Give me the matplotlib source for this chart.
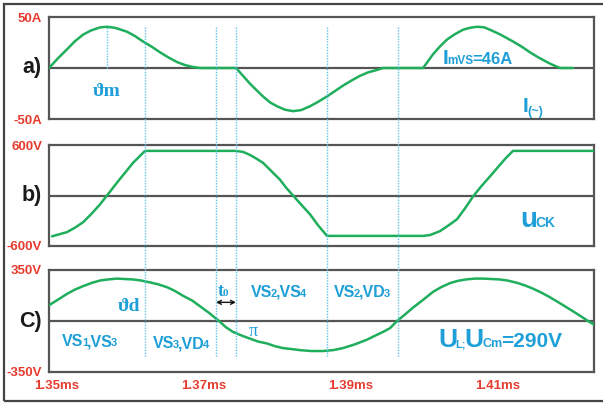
import matplotlib
matplotlib.use("Agg")
import matplotlib.pyplot as plt
from matplotlib import transforms
from matplotlib.lines import Line2D

# time base in ms
t_i = [1.34891, 1.35014, 1.35136, 1.35245, 1.35354, 1.35463, 1.35585, 1.35680,
       1.35789, 1.35952, 1.36061, 1.36170, 1.36292, 1.36401, 1.36510, 1.36633,
       1.36741, 1.36850, 1.36946, 1.37435, 1.37531, 1.37626, 1.37707, 1.37803,
       1.37898, 1.37993, 1.38102, 1.38211, 1.38320, 1.38442, 1.38551, 1.38673,
       1.38782, 1.38891, 1.39013, 1.39122, 1.39231, 1.39354, 1.39435, 1.39980,
       1.40048, 1.40116, 1.40211, 1.40306, 1.40415, 1.40524, 1.40619, 1.40714,
       1.40810, 1.40891, 1.41027, 1.41204, 1.41327, 1.41435, 1.41544, 1.41667,
       1.41748, 1.41844, 1.42020]
i_ac = [0, 9.6, 18.3, 26.3, 32.7, 36.8, 39.8, 40.4,
        39.4, 35.6, 31.3, 26.0, 20.7, 15.4, 10.6, 5.8,
        2.9, 1.0, 0, 0, -7.7, -15.4, -21.2, -27.9,
        -33.7, -37.5, -40.9, -42.3, -41.3, -37.5, -33.2, -27.9,
        -22.6, -17.3, -12.0, -7.7, -4.3, -1.9, 0, 0,
        6.7, 13.5, 21.2, 27.9, 33.2, 37.5, 39.4, 40.4,
        39.9, 37.5, 33.0, 26.0, 20.7, 15.4, 10.6, 5.8,
        2.9, 0, 0]

t_u = [1.34932, 1.35014, 1.35136, 1.35245, 1.35354, 1.35463, 1.35585, 1.35680,
       1.35816, 1.35925, 1.36034, 1.36116, 1.36197, 1.37435, 1.37531, 1.37626,
       1.37707, 1.37803, 1.37898, 1.38034, 1.38116, 1.38211, 1.38320, 1.38442,
       1.38551, 1.38673, 1.39980, 1.40075, 1.40211, 1.40320, 1.40442, 1.40551,
       1.40660, 1.40769, 1.40891, 1.41027, 1.41109, 1.41204, 1.42306]
u_ck = [-485, -465, -435, -382, -318, -223, -106, 0,
        153, 270, 388, 459, 530, 530, 518, 482,
        441, 388, 306, 188, 94, 0, -106, -223,
        -353, -480, -480, -470, -423, -359, -282, -153,
        -12, 106, 227, 365, 447, 530, 530]

t_l = [1.34891, 1.35014, 1.35136, 1.35245, 1.35354, 1.35476, 1.35585, 1.35694,
       1.35816, 1.35925, 1.36034, 1.36143, 1.36265, 1.36374, 1.36497, 1.36605,
       1.36714, 1.36837, 1.36946, 1.37068, 1.37204, 1.37299, 1.37395, 1.37517,
       1.37626, 1.37735, 1.37857, 1.37966, 1.38075, 1.38197, 1.38306, 1.38456,
       1.38619, 1.38755, 1.38891, 1.39054, 1.39218, 1.39327, 1.39435, 1.39531,
       1.39626, 1.39735, 1.39844, 1.39980, 1.40116, 1.40225, 1.40347, 1.40456,
       1.40578, 1.40687, 1.40796, 1.40918, 1.41027, 1.41136, 1.41259, 1.41367,
       1.41476, 1.41585, 1.41707, 1.41816, 1.41939, 1.42048, 1.42156, 1.42224,
       1.42320]
u_l = [108, 147, 186, 216, 239, 262, 278, 285,
       291, 288, 285, 278, 265, 252, 232, 206,
       173, 141, 101, 56, 0, -43, -75, -101,
       -121, -141, -154, -173, -186, -193, -200, -206,
       -206, -200, -186, -160, -128, -101, -75, -49,
       0, 45, 92, 145, 200, 232, 260, 276,
       286, 291, 291, 288, 285, 277, 262, 244,
       222, 196, 163, 130, 92, 58, 23, 0,
       -29]

marks = [1.36197, 1.37163, 1.37435, 1.38673, 1.39639]
theta_m = 1.35680
ticks_ms = [1.35, 1.37, 1.39, 1.41]
tick_labels = ["1.35ms", "1.37ms", "1.39ms", "1.41ms"]
xlim = (1.34891, 1.42306)

GREEN = "#1fae5c"
BLUE = "#1e9fd8"
RED = "#e63b2e"
GRAY = "#555555"
DOT = "#5cc6ee"
SANS = ["Liberation Sans", "DejaVu Sans"]
SERIF = ["Liberation Serif", "DejaVu Serif"]

W, H = 603, 403
fig = plt.figure(figsize=(W / 100, H / 100), dpi=100)
fig.patch.set_facecolor("white")


def panel(top, bottom, lim, labels, name):
    ax = fig.add_axes([49 / W, 1 - bottom / H, 545 / W, (bottom - top) / H])
    ax.set_xlim(*xlim)
    ax.set_ylim(-lim, lim)
    for s in ax.spines.values():
        s.set_color(GRAY)
        s.set_linewidth(1.6)
    ax.axhline(0, color=GRAY, lw=1.6, zorder=1)
    ax.set_yticks([-lim, lim], labels)
    ax.set_xticks([])
    ax.tick_params(axis="y", length=0, pad=5, labelcolor=RED, labelsize=9.5)
    for lb in ax.get_yticklabels():
        lb.set_fontweight("bold")
        lb.set_family(SANS)
    ax.text(-0.013, 0, name, transform=ax.get_yaxis_transform(), ha="right",
            va="center", fontsize=15.5, fontweight="bold", family=SANS, color="#1a1a1a")
    return ax


ax_a = panel(17, 119, 50, ["-50A", "50A"], "a)")
ax_b = panel(145, 246, 600, ["-600V", "600V"], "b)")
ax_c = panel(270, 372, 350, ["-350V", "350V"], "C)")

style = dict(color=GREEN, lw=1.8, zorder=3, solid_joinstyle="round", solid_capstyle="round")
ax_a.plot(t_i, i_ac, **style)
ax_b.plot(t_u, u_ck, **style)
ax_c.plot(t_l, u_l, **style)

ax_c.set_xticks(ticks_ms, tick_labels)
ax_c.tick_params(axis="x", length=0, pad=6, labelcolor=RED, labelsize=9.5)
for lb in ax_c.get_xticklabels():
    lb.set_fontweight("bold")
    lb.set_family(SANS)

# dotted switching instants across all three panels
span = transforms.blended_transform_factory(ax_c.transData, fig.transFigure)
for m in marks:
    fig.add_artist(Line2D([m, m], [1 - 27 / H, 1 - 357 / H], transform=span,
                          color=DOT, lw=1.0, ls=(0, (1, 1)), zorder=5))
ax_a.plot([theta_m, theta_m], [0, 40.4], color=DOT, lw=1.0, ls=(0, (1, 1)))

rend = fig.canvas.get_renderer()


def runs(ax, x, y, parts, family=SANS, color=BLUE):
    dx = 0
    for s, size, dy in parts:
        tr = transforms.offset_copy(ax.transData, fig=fig, x=dx, y=dy, units="dots")
        t = ax.text(x, y, s, transform=tr, fontsize=size, fontweight="bold",
                    family=family, color=color, ha="left", va="baseline")
        dx += t.get_window_extent(rend).width - 1.5


# panel a
ax_a.text(theta_m, -23.5, "ϑm", ha="center", va="center", fontsize=14,
          fontweight="bold", family=SERIF, color=BLUE)
runs(ax_a, 1.40252, 3.9, [("I", 15, 0), ("mVS", 8.5, 0), ("=46A", 12, 0)])
runs(ax_a, 1.41340, -43.1, [("I", 15, 0), ("(~)", 9, -3)])

# panel b
runs(ax_b, 1.41299, -380, [("u", 20, 0), ("CK", 10, 0)])

# panel c
ax_c.text(1.35980, 101, "ϑd", ha="center", va="center", fontsize=14,
          fontweight="bold", family=SERIF, color=BLUE)
runs(ax_c, 1.35068, -173, [("VS", 11.5, 0), ("1", 8, 0), (",VS", 11.5, 0), ("3", 8, 0)])
runs(ax_c, 1.36306, -186, [("VS", 11.5, 0), ("3", 8, 0), (",VD", 11.5, 0), ("4", 8, 0)])
runs(ax_c, 1.37639, 167, [("VS", 11.5, 0), ("2", 8, 0), (",VS", 11.5, 0), ("4", 8, 0)])
runs(ax_c, 1.38769, 167, [("VS", 11.5, 0), ("2", 8, 0), (",VD", 11.5, 0), ("3", 8, 0)])
runs(ax_c, 1.37190, 173, [("t", 13, 0), ("0", 8, 0)], family=SERIF)
ax_c.annotate("", xy=(marks[1], 128), xytext=(marks[2], 128),
              arrowprops=dict(arrowstyle="<->", color="#111111", lw=1.0,
                              shrinkA=0, shrinkB=0, mutation_scale=7))
ax_c.text(1.37667, -69, "π", ha="center", va="center", fontsize=13,
          family=SERIF, color=BLUE)
runs(ax_c, 1.40184, -180, [("U", 19, 0), ("L;", 8, 0), ("U", 19, 0),
                           ("Cm", 9, 0), ("=290V", 15, 0)])

# outer frame
fig.add_artist(plt.Rectangle((4 / W, 2 / H), 1.2, 1 - 6 / H, transform=fig.transFigure,
                             fill=False, edgecolor="#444444", lw=1.6))

fig.savefig("out.png", dpi=100)
